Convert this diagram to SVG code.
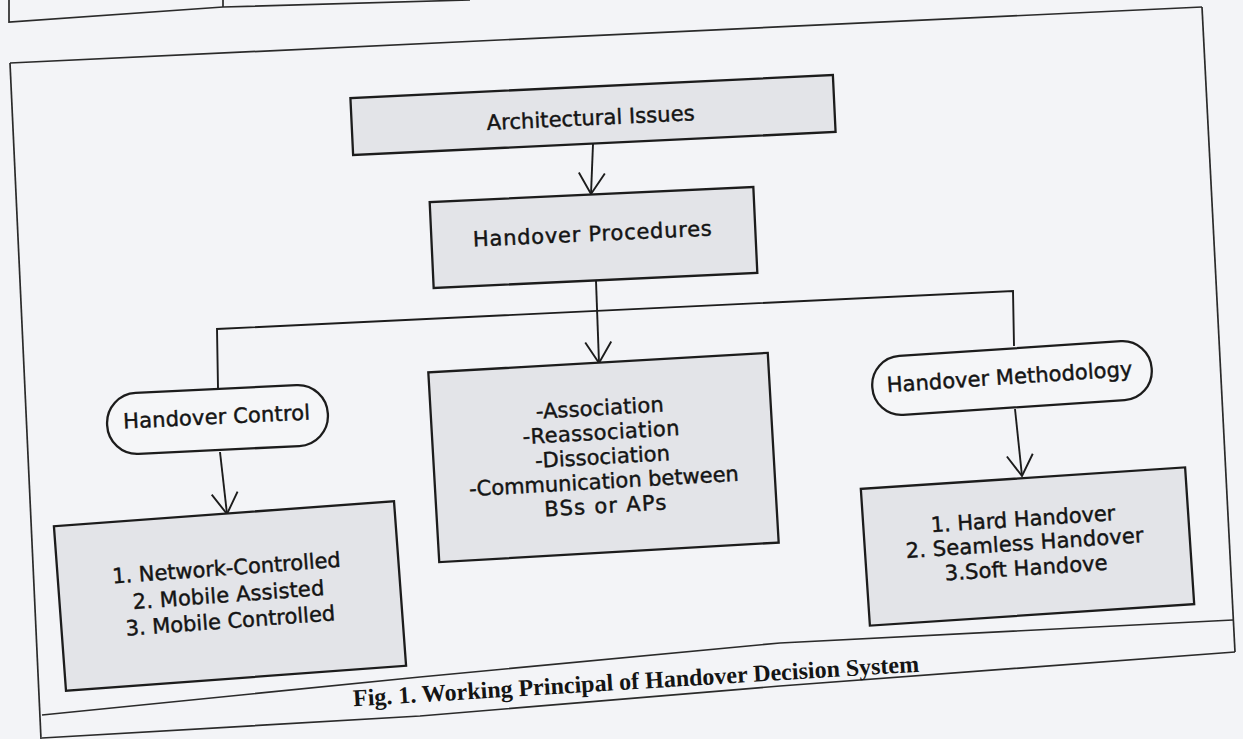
<svg xmlns="http://www.w3.org/2000/svg" width="1243" height="739" viewBox="0 0 1243 739">
<style>
.box{fill:#e3e4e8;stroke:#1c1c1c;stroke-width:2.3}
.pill{fill:#f5f6f8;stroke:#1c1c1c;stroke-width:2.3}
.t{font-family:"DejaVu Sans",sans-serif;font-size:21px;fill:#141414;stroke:#141414;stroke-width:0.45;text-anchor:middle}
.frame{fill:none;stroke:#2a2a2a;stroke-width:1.7}
.conn{fill:none;stroke:#1c1c1c;stroke-width:1.9}
.cap{font-family:"Liberation Serif",serif;font-weight:bold;font-size:24px;fill:#141414;text-anchor:middle}
</style>
<defs>
<marker id="arr" viewBox="-24 -16 26 32" refX="0" refY="0" markerWidth="26" markerHeight="32" markerUnits="userSpaceOnUse" orient="auto" overflow="visible">
<path d="M-21,-13 L0,0 L-21,13" fill="none" stroke="#1c1c1c" stroke-width="1.9"/>
</marker>
</defs>
<rect x="0" y="0" width="1243" height="739" fill="#f3f4f7"/>

<g id="frame">
<polyline class="frame" points="9,0 9,22 223,7 470,0"/>
<line class="frame" x1="223" y1="0" x2="223" y2="7"/>
<line class="frame" x1="10" y1="63" x2="1202" y2="7"/>
<line class="frame" x1="10" y1="63" x2="41" y2="739"/>
<line class="frame" x1="1202" y1="7" x2="1235" y2="652"/>
<polyline class="frame" points="42,715 420,677 780,643 1233,620"/>
<polyline class="frame" points="42,738 420,716 780,686 1235,652"/>
</g>

<g id="connectors">
<line class="conn" x1="593" y1="144" x2="591" y2="194" marker-end="url(#arr)"/>
<line class="conn" x1="596" y1="281" x2="599" y2="363" marker-end="url(#arr)"/>
<polyline class="conn" points="218,388 217,329 1013,291 1014,346"/>
<line class="conn" x1="220" y1="452" x2="227" y2="514" marker-end="url(#arr)"/>
<line class="conn" x1="1015" y1="409" x2="1022" y2="476" marker-end="url(#arr)"/>
</g>

<g id="architectural-issues" transform="rotate(-2.73 593 115)">
<rect class="box" x="351.5" y="86.5" width="483" height="57"/>
<text class="t" x="590.5" y="125" textLength="208" lengthAdjust="spacing">Architectural Issues</text>
</g>

<g id="handover-procedures" transform="rotate(-2.66 593.5 237.5)">
<rect class="box" x="431.5" y="194.5" width="324" height="86"/>
<text class="t" x="592.5" y="241" textLength="239" lengthAdjust="spacing">Handover  Procedures</text>
</g>

<g id="handover-control" transform="rotate(-2.8 217.5 419.5)">
<rect class="pill" x="107" y="389" width="221" height="61" rx="30" ry="30"/>
<text class="t" x="216.7" y="424" textLength="187" lengthAdjust="spacing">Handover Control</text>
</g>

<g id="procedures-list" transform="rotate(-3.3 603.5 457.5)">
<rect class="box" x="433.5" y="362.5" width="340" height="190"/>
<text class="t" x="602.5" y="415" textLength="128" lengthAdjust="spacing">-Association</text>
<text class="t" x="602.5" y="439.5" textLength="157" lengthAdjust="spacing">-Reassociation</text>
<text class="t" x="602.5" y="464" textLength="135" lengthAdjust="spacing">-Dissociation</text>
<text class="t" x="602.5" y="488.5" textLength="270" lengthAdjust="spacing">-Communication between</text>
<text class="t" x="602.5" y="513" textLength="122" lengthAdjust="spacing">BSs or APs</text>
</g>

<g id="handover-methodology" transform="rotate(-3.8 1012 378)">
<rect class="pill" x="872" y="348.5" width="280" height="59" rx="29" ry="29"/>
<text class="t" x="1009.6" y="384" textLength="246" lengthAdjust="spacing">Handover Methodology</text>
</g>

<g id="control-list" transform="rotate(-4.2 230 596)">
<rect class="box" x="59.5" y="513.5" width="341" height="165"/>
<text class="t" x="228.5" y="575" textLength="229" lengthAdjust="spacing">1. Network-Controlled</text>
<text class="t" x="228.5" y="602" textLength="192" lengthAdjust="spacing">2. Mobile Assisted</text>
<text class="t" x="228.5" y="628" textLength="210" lengthAdjust="spacing">3. Mobile Controlled</text>
</g>

<g id="methodology-list" transform="rotate(-3.8 1027.5 546.5)">
<rect class="box" x="865" y="478" width="325" height="137"/>
<text class="t" x="1024.8" y="526" textLength="185" lengthAdjust="spacing">1. Hard Handover</text>
<text class="t" x="1024.8" y="550" textLength="238" lengthAdjust="spacing">2. Seamless Handover</text>
<text class="t" x="1024.8" y="575" textLength="163" lengthAdjust="spacing">3.Soft Handove</text>
</g>

<g id="caption" transform="rotate(-3.5 636.5 689)">
<text class="cap" x="636.5" y="689" textLength="567" lengthAdjust="spacingAndGlyphs">Fig. 1. Working Principal of Handover Decision System</text>
</g>
</svg>
